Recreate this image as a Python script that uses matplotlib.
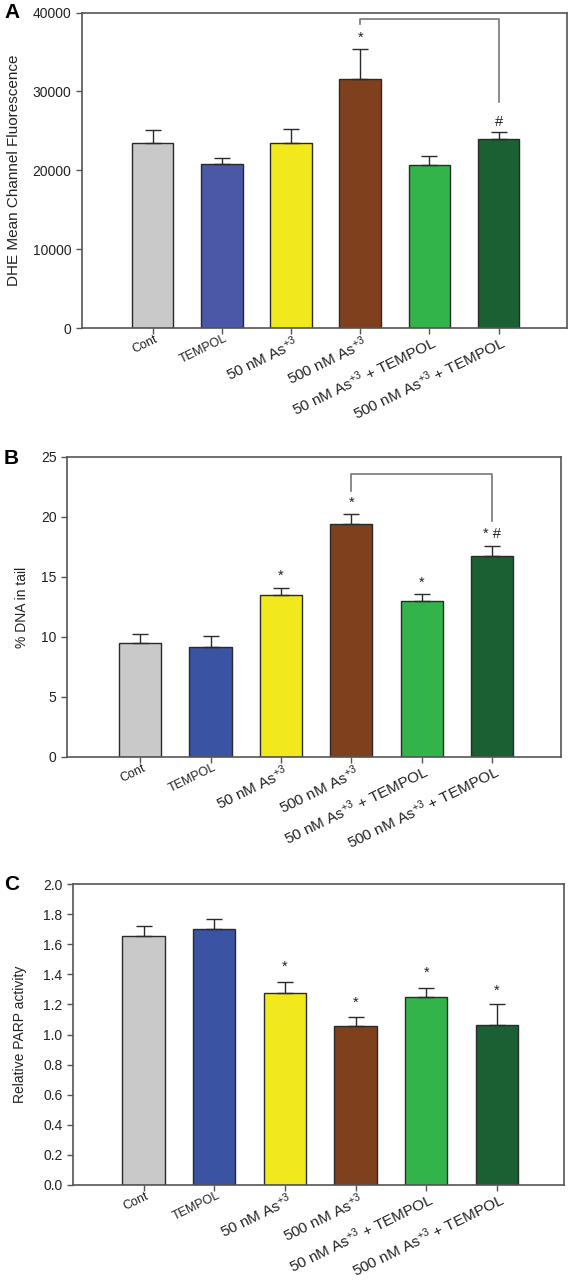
import matplotlib
matplotlib.use("Agg")
import matplotlib.pyplot as plt
import numpy as np

plt.rcParams['font.family'] = ['Liberation Sans', 'DejaVu Sans']
plt.rcParams['mathtext.fontset'] = 'custom'
plt.rcParams['mathtext.rm'] = 'Liberation Sans'
plt.rcParams['mathtext.it'] = 'Liberation Sans:italic'
plt.rcParams['mathtext.bf'] = 'Liberation Sans:bold'

categories = ["Cont", "TEMPOL", "50 nM As$^{+3}$", "500 nM As$^{+3}$",
              "50 nM As$^{+3}$ + TEMPOL", "500 nM As$^{+3}$ + TEMPOL"]
label_sizes = [9, 9, 11, 11, 11, 11]

# Panel A: DHE mean channel fluorescence
values_a = [23470, 20820, 23430, 31590, 20650, 23970]
err_a = [1640, 760, 1850, 3740, 1100, 850]
marks_a = ["", "", "", "*", "", "#"]
marks_a_y = [0, 0, 0, 36800, 0, 26100]
bracket_a = (3, 5, 39150, 38600, 28600)

# Panel B: % DNA in tail
values_b = [9.53, 9.19, 13.53, 19.42, 12.97, 16.72]
err_b = [0.75, 0.89, 0.58, 0.83, 0.61, 0.89]
marks_b = ["", "", "*", "*", "*", "* #"]
marks_b_y = [0, 0, 15.1, 21.2, 14.5, 18.6]
bracket_b = (3, 5, 23.6, 22.2, 19.7)

# Panel C: relative PARP activity
values_c = [1.653, 1.70, 1.275, 1.056, 1.246, 1.061]
err_c = [0.066, 0.07, 0.077, 0.062, 0.062, 0.139]
marks_c = ["", "", "*", "*", "*", "*"]
marks_c_y = [0, 0, 1.447, 1.211, 1.41, 1.293]

colors_a = ["#c9c9c9", "#4b58a8", "#f2e91c", "#7f411d", "#33b44a", "#1b6032"]
colors_bc = ["#c9c9c9", "#3a53a3", "#f2e91c", "#7f411d", "#33b44a", "#1b6032"]

W, H = 570, 1280
fig = plt.figure(figsize=(W / 100, H / 100), dpi=100)


def add_axes_px(left, right, top, bottom):
    return fig.add_axes([left / W, 1 - bottom / H, (right - left) / W, (bottom - top) / H])


spine_col = "#555555"
text_col = "#222222"


def panel(ax, vals, errs, colors, ylim, yticks, ytl, ylabel, xlim, marks, marks_y,
          letter, letter_xy, bracket=None, ylabel_x=None, ylabel_size=11):
    x = np.arange(len(vals))
    ax.bar(x, vals, width=0.6, color=colors, edgecolor="#2a2a2a", linewidth=1.0, zorder=2)
    ax.errorbar(x, vals, yerr=[np.zeros(len(errs)), errs], fmt="none", ecolor="#2a2a2a",
                elinewidth=1.0, capsize=5.5, capthick=1.0, zorder=3)
    ax.set_xlim(*xlim)
    ax.set_ylim(*ylim)
    ax.set_yticks(yticks)
    ax.set_yticklabels(ytl, fontsize=10, color=text_col)
    ax.set_xticks(x)
    ax.set_xticklabels([])
    for xi, lab, fs in zip(x, categories, label_sizes):
        ax.annotate(lab, xy=(xi, 0), xycoords=("data", "axes fraction"),
                    xytext=(1.5, -3.5), textcoords="offset points",
                    rotation=26, rotation_mode="anchor", ha="right", va="top",
                    fontsize=fs, color=text_col)
    ax.tick_params(direction="out", length=4.5, width=1.0, color=spine_col, pad=3)
    for s in ax.spines.values():
        s.set_color(spine_col)
        s.set_linewidth(1.2)
    ax.set_ylabel(ylabel, fontsize=ylabel_size, color=text_col)
    if ylabel_x is not None:
        ax.yaxis.set_label_coords(ylabel_x, 0.5)
    for xi, m, my in zip(x, marks, marks_y):
        if m:
            ax.text(xi, my, m, ha="center", va="center", fontsize=10.5, color=text_col)
    if bracket is not None:
        x0, x1, yh, yl, yr = bracket
        ax.plot([x0, x0, x1, x1], [yl, yh, yh, yr], color="#777777", lw=1.2, zorder=1)
    fig.text(letter_xy[0] / W, 1 - letter_xy[1] / H, letter, fontsize=15, fontweight="bold",
             ha="left", va="center")


axA = add_axes_px(82, 567, 12.5, 328)
panel(axA, values_a, err_a, colors_a, (0, 40000), [0, 10000, 20000, 30000, 40000],
      ["0", "10000", "20000", "30000", "40000"], "DHE Mean Channel Fluorescence",
      (-1.02, 5.99), marks_a, marks_a_y, "A", (4, 13), bracket=bracket_a,
      ylabel_x=-0.126, ylabel_size=11)

axB = add_axes_px(67, 561, 457, 757)
panel(axB, values_b, err_b, colors_bc, (0, 25), [0, 5, 10, 15, 20, 25],
      ["0", "5", "10", "15", "20", "25"], "% DNA in tail",
      (-1.04, 5.98), marks_b, marks_b_y, "B", (4, 458), bracket=bracket_b,
      ylabel_x=-0.077, ylabel_size=10)

axC = add_axes_px(73, 564, 884, 1185)
panel(axC, values_c, err_c, colors_bc, (0, 2.0), np.arange(0, 2.01, 0.2),
      ["%.1f" % v for v in np.arange(0, 2.01, 0.2)], "Relative PARP activity",
      (-1.0, 5.95), marks_c, marks_c_y, "C", (4, 885),
      ylabel_x=-0.094, ylabel_size=10)

fig.savefig("out.png", dpi=100)
